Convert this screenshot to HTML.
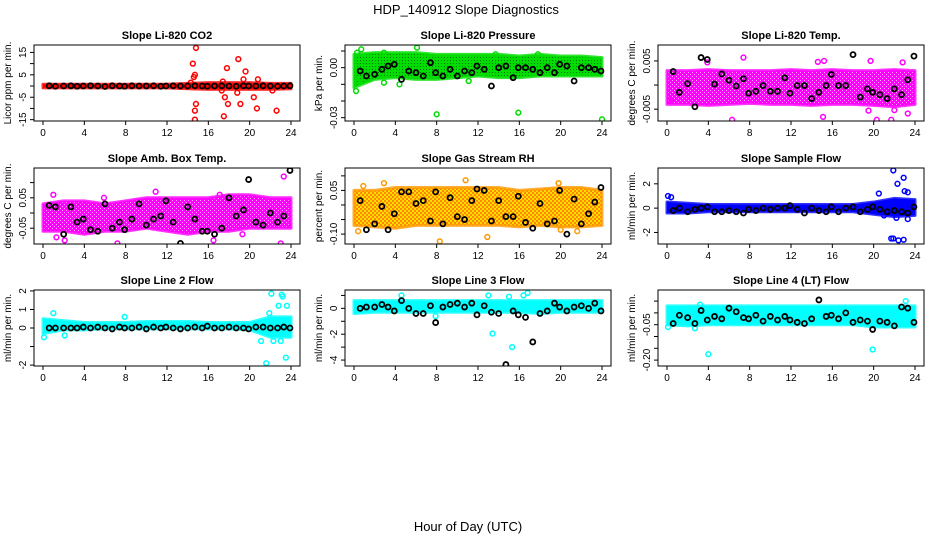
<!DOCTYPE html>
<html><head><meta charset="utf-8"><style>
html,body{margin:0;padding:0;background:#fff;}
svg{display:block;font-family:"Liberation Sans",sans-serif;}
</style></head><body>
<svg id="chart" width="936" height="540" viewBox="0 0 936 540">
<defs>
<pattern id="rhPat" width="4" height="4" patternUnits="userSpaceOnUse"><rect width="4" height="4" fill="#ffdd00"/><rect width="2" height="2" fill="#ff8800"/><rect x="2" y="2" width="2" height="2" fill="#ff8800"/></pattern>
<pattern id="grPat" width="3" height="3" patternUnits="userSpaceOnUse"><rect width="3" height="3" fill="#00dd00"/><rect width="1" height="1" fill="#007700"/></pattern>
<pattern id="mgPat" width="4" height="4" patternUnits="userSpaceOnUse"><rect width="4" height="4" fill="#ff00ff"/><rect width="1" height="1" fill="#ffaaff"/><rect x="2" y="2" width="1" height="1" fill="#ffaaff"/></pattern>
</defs>
<text x="466" y="14" text-anchor="middle" font-size="13">HDP_140912  Slope Diagnostics</text>
<text x="468" y="531" text-anchor="middle" font-size="13">Hour of Day (UTC)</text>
</svg>
<script>
const bandHours=[0,2,4,6,8,10,12,14,16,18,20,22,24];
const blackHours=[0.6,1.2,2.0,2.7,3.3,3.9,4.6,5.3,6.0,6.7,7.4,7.9,8.6,9.3,10.0,10.7,11.4,11.9,12.6,13.3,14.0,14.7,15.4,15.9,16.6,17.3,18.0,18.7,19.4,19.9,20.6,21.3,22.0,22.7,23.3,23.9];
const xTicks=[0,4,8,12,16,20,24];
const panelTitles=["Slope Li-820 CO2","Slope Li-820 Pressure","Slope Li-820 Temp.","Slope Amb. Box Temp.","Slope Gas Stream RH","Slope Sample Flow","Slope Line 2 Flow","Slope Line 3 Flow","Slope Line 4 (LT) Flow"];
const yTitles=["Licor ppm per min.","kPa per min.","degrees C per min.","degrees C per min.","percent per min.","ml/min per min.","ml/min per min.","ml/min per min.","ml/min per min."];
const yLims=[[-15.6,18.3],[-0.032,0.0136],[-0.00745,0.0083],[-0.102,0.148],[-0.134,0.127],[-2.95,3.3],[-2.05,2.05],[-4.46,1.42],[-0.225,0.097]];
const yTicks=[[-15,-10,-5,0,5,10,15],[-0.03,-0.02,-0.01,0,0.01],[-0.005,0,0.005],[-0.05,0,0.05,0.1],[-0.1,-0.05,0,0.05,0.1],[-2,0,2],[-2,-1,0,1,2],[-4,-3,-2,-1,0,1],[-0.2,-0.15,-0.1,-0.05,0,0.05]];
const yTickLabels=[["-15","","-5","","5","","15"],["-0.03","","","0.00",""],["-0.005","","0.005"],["-0.05","","0.05",""],["-0.10","","","0.05",""],["-2","0","2"],["-2","","0","1","2"],["-4","","-2","","0",""],["-0.20","","","-0.05","",""]];
const colors=["#ff0000","#00dd00","#ff00ff","#ff00ff","#ff9900","#0000ff","#00ffff","#00ffff","#00ffff"];
const bandFills=["#ff0000","url(#grPat)","url(#mgPat)","url(#mgPat)","url(#rhPat)","#0000ff","#00ffff","#00ffff","#00ffff"];
const bandLo=[
[-0.8,-0.8,-0.8,-0.8,-0.8,-0.8,-0.8,-1.2,-1.5,-1.5,-1.5,-1.5,-1.2],
[-0.012,-0.007,-0.006,-0.007,-0.007,-0.006,-0.005,-0.006,-0.006,-0.005,-0.005,-0.005,-0.005],
[-0.004,-0.004,-0.0042,-0.004,-0.0038,-0.004,-0.004,-0.0042,-0.004,-0.004,-0.0042,-0.0045,-0.004],
[-0.06,-0.06,-0.07,-0.06,-0.06,-0.05,-0.06,-0.07,-0.06,-0.06,-0.05,-0.05,-0.05],
[-0.07,-0.075,-0.08,-0.07,-0.07,-0.07,-0.07,-0.07,-0.075,-0.07,-0.075,-0.075,-0.07],
[-0.4,-0.4,-0.3,-0.3,-0.3,-0.3,-0.3,-0.3,-0.3,-0.3,-0.5,-0.7,-0.6],
[-0.3,-0.1,-0.1,-0.05,-0.05,-0.05,-0.05,-0.05,-0.05,-0.05,-0.1,-0.5,-0.5],
[-0.4,-0.3,-0.3,-0.3,-0.3,-0.3,-0.3,-0.3,-0.3,-0.4,-0.3,-0.3,-0.3],
[-0.05,-0.055,-0.05,-0.05,-0.05,-0.05,-0.05,-0.05,-0.05,-0.05,-0.06,-0.06,-0.06]];
const bandHi=[
[0.8,0.8,0.8,0.8,0.8,0.8,0.8,1.2,1.5,1.5,1.5,1.2,1.2],
[0.008,0.009,0.009,0.009,0.008,0.008,0.008,0.008,0.007,0.008,0.007,0.007,0.006],
[0.003,0.003,0.0032,0.003,0.003,0.003,0.0032,0.003,0.0032,0.003,0.003,0.0032,0.003],
[0.03,0.04,0.04,0.03,0.04,0.05,0.05,0.05,0.05,0.06,0.06,0.05,0.05],
[0.05,0.05,0.06,0.06,0.06,0.06,0.06,0.06,0.05,0.055,0.06,0.06,0.05],
[0.5,0.4,0.3,0.3,0.3,0.3,0.3,0.3,0.3,0.3,0.5,0.8,0.7],
[0.5,0.4,0.3,0.3,0.3,0.35,0.35,0.35,0.3,0.3,0.3,0.6,0.6],
[0.6,0.6,0.6,0.6,0.6,0.6,0.6,0.6,0.6,0.6,0.6,0.6,0.6],
[0.03,0.03,0.03,0.03,0.03,0.03,0.03,0.03,0.03,0.03,0.03,0.03,0.03]];
const outX=[
[14.5,14.6,14.7,14.8,14.8,14.7,14.7,14.3,17.4,17.6,17.8,17.9,17.5,18.9,19.1,19.6,18.8,19.4,20.4,20.7,20.8,22.6,22.2,17.3],
[0.2,0.3,0.7,0.4,6.1,8.0,15.9,24,2.9,2.9,13.7,17.8,11.1,4.4],
[6.3,15.1,20.3,21.7,19.5,22.0,23.3,7.4,22.8,19.7,14.6,15.2,0.3,3.9],
[23.3,10.9,1.0,5.9,17.1,7.2,2.1,16.5,23.0,1.3,19.3],
[10.8,8.3,12.9,20.0,21.6,0.4,19.8,2.9,0.9],
[0.1,0.4,21.9,22.3,22.9,23.3,23.0,20.5,21.7,21.9,22.4,22.9,23.3,22.2,21.0],
[21.6,22.1,23.1,23.2,23.6,23.5,22.8,21.1,22.3,23.0,21.9,0.1,1.0,7.9,2.1],
[13.4,15.3,16.8,16.4,4.6,13.0,7.9,15.0],
[4.0,11.9,19.9,23.1,3.2,0.1,2.7]];
const outY=[
[10,4,5,17,-8,-11,-15,1.5,2,-5,8,-8,-13.5,12,-8,6.5,-3,3,-5,-10,3,-11,-2,-2],
[-0.014,0.009,0.011,-0.008,0.012,-0.028,-0.027,-0.031,0.009,-0.009,0.008,0.008,-0.008,-0.010],
[-0.0072,-0.0066,-0.0072,-0.0072,-0.0053,-0.0052,-0.0059,0.0057,0.0047,0.005,0.0048,0.005,-0.0032,0.0047],
[0.12,0.07,0.06,0.05,0.06,-0.1,-0.09,-0.09,-0.1,-0.08,-0.07],
[0.085,-0.125,-0.11,-0.085,-0.09,-0.09,0.075,0.075,0.065],
[1.0,0.9,3.1,2,2.5,1.3,1.4,1.2,-2.5,-2.5,-2.65,-2.6,-0.9,-0.8,-0.6],
[-1.9,1.85,1.8,1.7,1.2,-1.6,1.2,-0.7,-0.7,-0.7,0.8,-0.5,0.8,0.6,-0.4],
[-1.95,-3.0,1.2,1.0,1.0,1.0,-0.6,0.9],
[-0.175,-0.235,-0.155,0.05,0.035,-0.06,-0.065]];
const blackY=[
[0.1,-0.1,0,0.1,-0.1,0,0.1,0,-0.2,0.1,0,-0.1,0.1,0,0,0.1,-0.1,0,0.1,0,0,0.1,0,-0.1,0,0.1,0,-0.1,0.1,0,0,0.1,0,-0.1,0,0.1],
[-0.002,-0.005,-0.004,-0.001,0.001,0.002,-0.007,-0.002,-0.003,-0.005,0.003,-0.003,-0.005,-0.001,-0.005,-0.002,-0.003,0.001,-0.001,-0.011,0,0.001,-0.006,0,0,-0.001,-0.003,0,-0.003,0.002,0.001,-0.008,0,0,-0.001,-0.002],
[0.0028,-0.0015,0.0003,-0.0045,0.0057,0.0053,0.0002,0.0023,0.001,-0.0002,0.0013,-0.0017,-0.0013,-0.0001,-0.0013,-0.0013,0.0015,-0.0017,-0.0001,-0.0001,-0.0028,-0.0015,-0.0001,0.0022,-0.0001,-0.0001,0.0063,-0.0025,-0.0008,-0.0015,-0.002,-0.0028,-0.0008,-0.002,0.0011,0.006],
[0.025,0.02,-0.07,0.02,-0.03,-0.02,-0.055,-0.06,0.03,-0.05,-0.03,-0.055,-0.02,0.03,-0.04,-0.02,-0.01,0.04,-0.03,-0.1,0.02,-0.02,-0.06,-0.06,-0.07,-0.05,0.05,-0.01,0.01,0.11,-0.03,-0.04,0,-0.03,-0.01,0.14],
[0.015,-0.085,-0.065,-0.005,-0.085,-0.03,0.045,0.045,0.005,0.015,-0.055,0.045,-0.065,0.025,-0.04,-0.05,0.015,0.055,0.05,-0.055,0.015,-0.04,-0.04,0.03,-0.06,-0.08,0.005,-0.065,-0.055,0.05,-0.1,0.02,-0.065,-0.03,0.01,0.06],
[-0.2,0,-0.3,-0.1,0,0.1,-0.3,-0.3,-0.2,-0.3,-0.4,-0.1,-0.2,0,-0.1,0,0,0.2,-0.1,-0.4,0,-0.2,-0.3,0.1,-0.3,0,0.1,-0.3,-0.1,0.1,-0.1,-0.3,-0.2,-0.3,-0.4,0.1],
[0,0,0,0,0,0.05,0,0.05,0,-0.05,0.05,0,0,0.05,-0.05,0.05,0,0.05,0,-0.05,0,0.05,0,0.1,0,0,0.05,0,0,-0.05,0.05,0.05,0,0,0.05,0],
[0,0.1,0.1,0.3,0.1,-0.2,0.6,0,-0.4,-0.4,0.2,-1.1,0.1,0.3,0.4,0.1,0.4,-0.5,0.2,-0.3,-0.4,-4.35,-0.2,-0.5,-0.7,-2.6,-0.4,-0.2,0.4,0.1,-0.2,0.1,0.2,0,0.4,-0.2],
[-0.045,-0.01,-0.02,-0.045,0.01,-0.03,-0.015,-0.025,0.02,0.005,-0.02,-0.025,-0.01,-0.035,-0.015,-0.03,-0.015,-0.03,-0.04,-0.045,-0.025,0.055,-0.015,-0.01,-0.025,0,-0.04,-0.03,-0.035,-0.07,-0.035,-0.04,-0.055,0.025,0.02,-0.04]];

const NS="http://www.w3.org/2000/svg";
const svg=document.getElementById('chart');
const colLeft=[34,345,658], rowTop=[45,168,290], boxW=266, boxH=76;
const XMIN=-0.87, XMAX=24.87;
function mk(tag,attrs,parent){const e=document.createElementNS(NS,tag);for(const k in attrs)e.setAttribute(k,attrs[k]);parent.appendChild(e);return e;}
for(let p=0;p<9;p++){
  const L=colLeft[p%3], T=rowTop[Math.floor(p/3)];
  const [y0,y1]=yLims[p];
  const sx=v=>L+(v-XMIN)/(XMAX-XMIN)*boxW;
  const sy=v=>T+boxH-(v-y0)/(y1-y0)*boxH;
  const g=mk('g',{},svg);
  
  
  const cp=mk('clipPath',{id:'cp'+p},g);
  mk('rect',{x:L,y:T,width:boxW,height:boxH},cp);
  const t=mk('text',{x:L+boxW/2,y:T-6,'text-anchor':'middle','font-size':11,'font-weight':'bold'},g);
  t.textContent=panelTitles[p];
  
  
  const yt=mk('text',{transform:`translate(${L-23},${T+boxH/2}) rotate(-90)`,'text-anchor':'middle','font-size':10},g);
  yt.textContent=yTitles[p];
  
  
  const plot=mk('g',{'clip-path':`url(#cp${p})`},g);
  let pts=bandHours.map((h,i)=>sx(h)+','+sy(bandHi[p][i]));
  pts=pts.concat(bandHours.slice().reverse().map((h,i)=>sx(h)+','+sy(bandLo[p][bandHours.length-1-i])));
  const band=mk('polygon',{points:pts.join(' '),fill:bandFills[p],stroke:colors[p],'stroke-width':3,'stroke-linejoin':'round','stroke-opacity':0.8},plot);
  
  
  outX[p].forEach((x,i)=>{
    const c=mk('circle',{cx:sx(x),cy:sy(outY[p][i]),r:2.4,fill:'none',stroke:colors[p],'stroke-width':1.5},plot);
    
    
  });
  blackHours.forEach((x,i)=>{
    const c=mk('circle',{cx:sx(x),cy:sy(blackY[p][i]),r:2.5,fill:'none',stroke:'#000','stroke-width':1.8},plot);
    
    
  });
  const box=mk('rect',{x:L,y:T,width:boxW,height:boxH,fill:'none',stroke:'#000','stroke-width':1},g);
  
  
  mk('line',{x1:sx(0),x2:sx(24),y1:T+boxH,y2:T+boxH,stroke:'#000'},g);
  xTicks.forEach(v=>{
    mk('line',{x1:sx(v),x2:sx(v),y1:T+boxH,y2:T+boxH+4,stroke:'#000'},g);
    const tl=mk('text',{x:sx(v),y:T+boxH+15,'text-anchor':'middle','font-size':10},g);
    tl.textContent=v;
    
    
  });
  yTicks[p].forEach((v,i)=>{
    mk('line',{x1:L,x2:L-4,y1:sy(v),y2:sy(v),stroke:'#000'},g);
    if(yTickLabels[p][i]){
      const tl=mk('text',{transform:`translate(${L-8},${sy(v)}) rotate(-90)`,'text-anchor':'middle','font-size':10},g);
      tl.textContent=yTickLabels[p][i];
      
      
    }
  });
}
</script>
</body></html>
